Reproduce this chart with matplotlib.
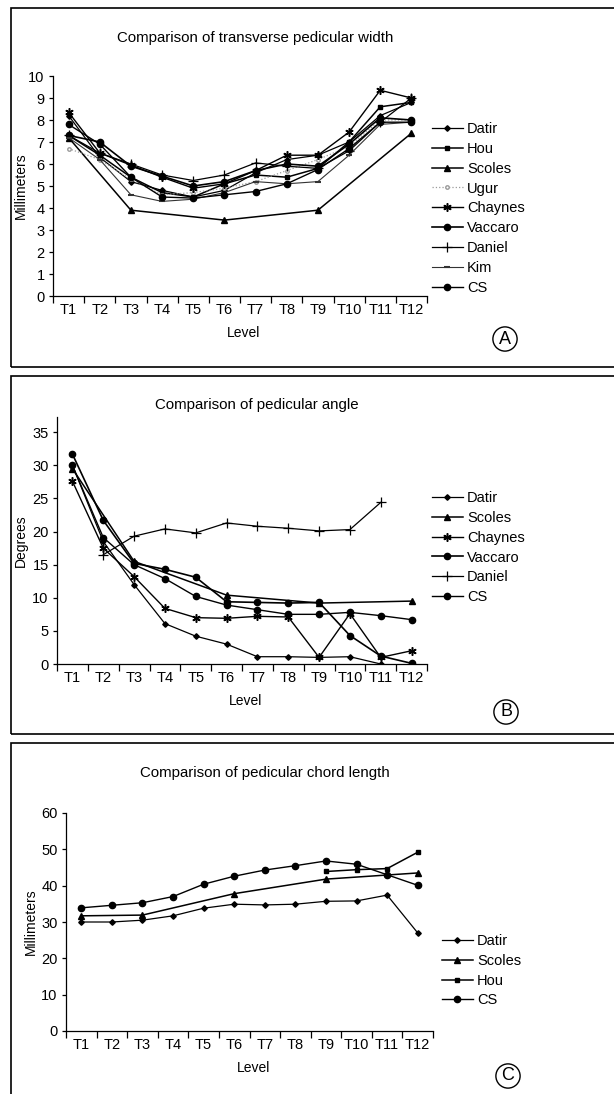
import numpy as np
import matplotlib
matplotlib.use('Agg')
import matplotlib.pyplot as plt
from matplotlib.patches import Rectangle

plt.rcParams['font.family'] = ['Liberation Sans', 'DejaVu Sans']

nan = np.nan
levels = ['T1', 'T2', 'T3', 'T4', 'T5', 'T6', 'T7', 'T8', 'T9', 'T10', 'T11', 'T12']

# A: transverse pedicular width (mm)
a_datir = [8.2, 6.3, 5.2, 4.8, 4.5, 4.8, 5.6, 6.2, 6.4, 7.0, 8.2, 8.8]
a_hou = [7.3, 6.4, 5.4, 4.7, 4.5, 5.1, 5.5, 5.4, 5.8, 7.0, 8.6, 8.8]
a_scoles = [7.2, nan, 3.9, nan, nan, 3.45, nan, nan, 3.9, nan, nan, 7.4]
a_ugur = [6.7, 6.2, 5.3, 4.6, 4.7, 4.9, 5.2, 5.7, 6.2, 6.8, 8.0, 8.0]
a_chaynes = [8.35, 6.5, 5.95, 5.4, 4.9, 5.1, 5.7, 6.4, 6.4, 7.45, 9.35, 9.0]
a_vaccaro = [7.3, 7.0, 5.9, 5.45, 5.0, 5.2, 5.7, 6.0, 5.9, 6.9, 8.1, 8.0]
a_daniel = [7.3, 6.5, 6.0, 5.5, 5.25, 5.5, 6.05, 5.9, 5.8, 6.6, 7.9, 9.0]
a_kim = [7.2, 6.2, 4.6, 4.3, 4.4, 4.7, 5.2, 5.1, 5.2, 6.4, 7.8, 7.9]
a_cs = [7.8, 6.9, 5.4, 4.5, 4.45, 4.6, 4.75, 5.1, 5.75, 6.7, 7.9, 7.9]

# B: pedicular angle (degrees)
b_datir = [30.0, 18.5, 12.0, 6.1, 4.2, 3.0, 1.1, 1.1, 1.0, 1.1, 0.0, nan]
b_scoles = [29.5, nan, 15.5, nan, nan, 10.4, nan, nan, 9.2, nan, nan, 9.5]
b_chaynes = [27.6, 17.5, 13.2, 8.4, 7.0, 6.9, 7.2, 7.1, 1.0, 7.6, 1.0, 2.0]
b_vaccaro = [31.7, 21.7, 15.2, 14.3, 13.1, 9.4, 9.3, 9.2, 9.3, 4.3, 1.2, 0.1]
b_daniel = [nan, 16.5, 19.3, 20.4, 19.8, 21.3, 20.8, 20.5, 20.1, 20.3, 24.4, nan]
b_cs = [30.0, 19.1, 15.0, 12.9, 10.2, 8.9, 8.2, 7.5, 7.5, 7.8, 7.3, 6.7]

# C: pedicular chord length (mm)
c_datir = [30.0, 30.0, 30.5, 31.7, 33.8, 34.9, 34.7, 34.9, 35.7, 35.8, 37.4, 27.0]
c_scoles = [31.7, nan, 31.9, nan, nan, 37.8, nan, nan, 41.8, nan, nan, 43.5]
c_hou = [nan, nan, nan, nan, nan, nan, nan, nan, 43.9, 44.4, 44.7, 49.2]
c_cs = [33.9, 34.6, 35.3, 37.0, 40.4, 42.6, 44.3, 45.5, 46.8, 45.9, 43.0, 40.1]

W, H = 614, 1094
fig = plt.figure(figsize=(W / 100, H / 100), dpi=100)
fig.patch.set_facecolor('white')

def fx(px):
    return px / W

def fy(py):
    return 1 - py / H

# panel frames
for top, bot in [(8, 367), (376, 734), (743, 1100)]:
    fig.patches.append(Rectangle((fx(11), fy(bot)), fx(640), (bot - top) / H,
                                 transform=fig.transFigure, fill=False,
                                 edgecolor='black', linewidth=1.2))

styles = {
    'Datir': dict(marker='D', ms=2.8, color='black', lw=0.9),
    'Hou': dict(marker='s', ms=3.5, color='black', lw=1.1),
    'Scoles': dict(marker='^', ms=5, color='black', lw=1.1),
    'Ugur': dict(marker='o', ms=2.5, mfc='white', color='#9a9a9a', lw=0.9, ls=':'),
    'Chaynes': dict(marker=(6, 2, 0), ms=6, mew=1.1, color='black', lw=1.0),
    'Vaccaro': dict(marker='o', ms=4.5, color='black', lw=1.2),
    'Daniel': dict(marker='+', ms=7, mew=0.9, color='black', lw=0.9),
    'Kim': dict(marker='_', ms=4.5, mew=1.5, color='#333333', lw=0.8),
    'CS': dict(marker='o', ms=4.5, color='black', lw=1.0),
}

def panel(left, right, top, bot, ymax, yticks, series, title, title_y, title_x,
          ylabel, ylab_x, leg_x, leg_y, tag, tag_xy):
    ax = fig.add_axes([fx(left), fy(bot), (right - left) / W, (bot - top) / H])
    x = np.arange(len(levels)) + 0.5
    for name, vals in series:
        v = np.array(vals, dtype=float)
        m = ~np.isnan(v)
        ax.plot(x[m], v[m], label=name, **styles[name])
    ax.set_xlim(0, len(levels))
    ax.set_ylim(0, ymax)
    ax.set_yticks(yticks)
    ax.set_xticks(np.arange(len(levels) + 1))
    ax.set_xticklabels([])
    ax.set_xticks(x, minor=True)
    ax.set_xticklabels(levels, minor=True)
    ax.tick_params(axis='x', which='major', direction='out', length=5, width=0.9)
    ax.tick_params(axis='x', which='minor', length=0, pad=5, labelsize=10.5)
    ax.tick_params(axis='y', direction='out', length=3, width=0.9, pad=3, labelsize=10.5)
    for s in ['top', 'right']:
        ax.spines[s].set_visible(False)
    for s in ['left', 'bottom']:
        ax.spines[s].set_linewidth(0.9)
    ax.set_xlabel('Level', fontsize=10)
    ax.xaxis.set_label_coords(0.51, -30 / (bot - top))
    ax.set_ylabel(ylabel, fontsize=10)
    ax.yaxis.set_label_coords((ylab_x + 6 - left) / (right - left), 0.5)
    fig.text(fx(title_x), fy(title_y), title, ha='center', va='center', fontsize=10.8)
    ax.legend(loc='upper left', bbox_to_anchor=(fx(leg_x), fy(leg_y)),
              bbox_transform=fig.transFigure, frameon=False, fontsize=10.5,
              handlelength=2.1, handletextpad=0.3, labelspacing=0.4,
              borderpad=0, borderaxespad=0, numpoints=1)
    fig.text(fx(tag_xy[0]), fy(tag_xy[1]), tag, ha='center', va='center', fontsize=13,
             bbox=dict(boxstyle='circle,pad=0.2', fc='white', ec='black', lw=1.0))
    return ax

panel(53, 427, 76, 296, 10, range(0, 11),
      [('Datir', a_datir), ('Hou', a_hou), ('Scoles', a_scoles), ('Ugur', a_ugur),
       ('Chaynes', a_chaynes), ('Vaccaro', a_vaccaro), ('Daniel', a_daniel),
       ('Kim', a_kim), ('CS', a_cs)],
      'Comparison of transverse pedicular width', 38, 255,
      'Millimeters', 22, 432, 122, 'A', (505, 339))

panel(57, 427, 417, 664, 37.3, range(0, 36, 5),
      [('Datir', b_datir), ('Scoles', b_scoles), ('Chaynes', b_chaynes),
       ('Vaccaro', b_vaccaro), ('Daniel', b_daniel), ('CS', b_cs)],
      'Comparison of pedicular angle', 405, 257,
      'Degrees', 22, 432, 491, 'B', (506, 712))

panel(66, 433, 813, 1031, 60, range(0, 61, 10),
      [('Datir', c_datir), ('Scoles', c_scoles), ('Hou', c_hou), ('CS', c_cs)],
      'Comparison of pedicular chord length', 773, 265,
      'Millimeters', 32, 442, 934, 'C', (508, 1076))

fig.savefig('out.png', dpi=100)
